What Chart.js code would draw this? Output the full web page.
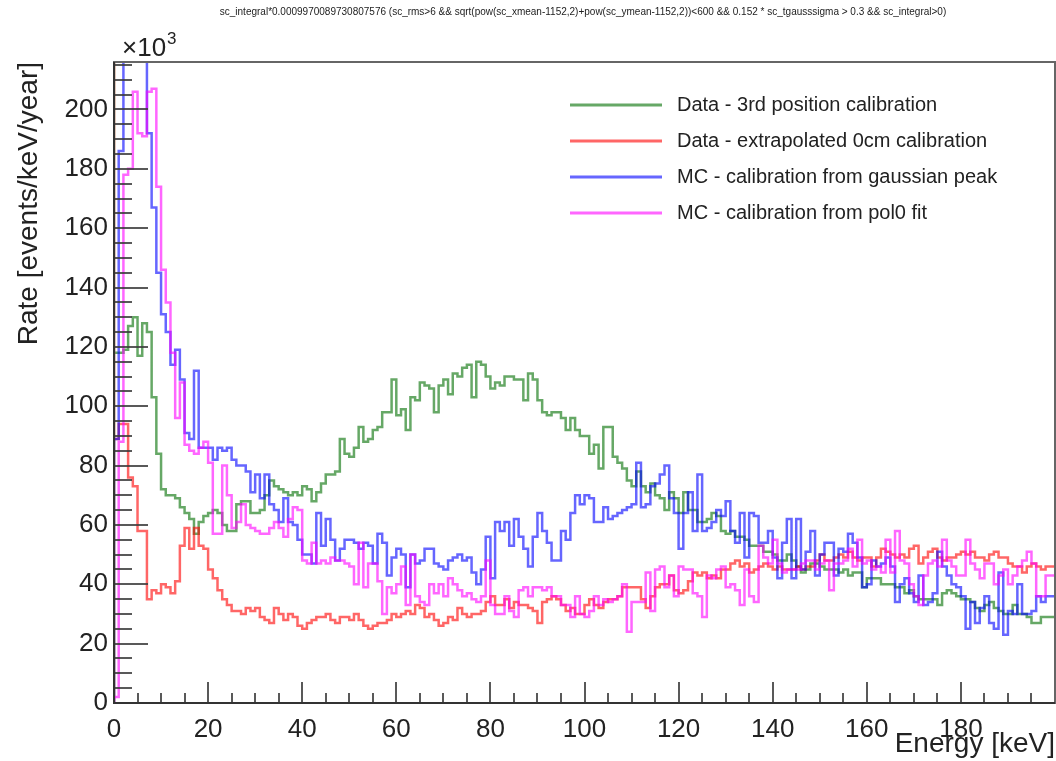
<!DOCTYPE html>
<html>
<head>
<meta charset="utf-8">
<script src="https://cdn.jsdelivr.net/npm/chart.js@4.4.1/dist/chart.umd.min.js"></script>
<style>
  html, body { margin: 0; padding: 0; background: #fff; }
</style>
</head>
<body>
<canvas id="myCanvas" width="1056" height="761"></canvas>
<script>
// energy spectra, 1 keV bins from 0 to 200 keV, rates in 10^3 events/keV/year
var binWidth = 1;
var energyMin = 0;
var energyMax = 200;

var seriesNames = [
    "Data - 3rd position calibration",
    "Data - extrapolated 0cm calibration",
    "MC - calibration from gaussian peak",
    "MC - calibration from pol0 fit"
];

var data3rdPos = [
    320,118,118,119,127,130,117,128,125,103,84,72,70,70,69,66,64,62,57,61,
    63,64,65,64,60,58,58,67,68,68,64,64,65,70,75,73,72,71,70,71,
    70,73,72,68,71,74,77,77,78,89,84,83,86,93,88,89,92,93,98,98,
    109,97,99,92,103,102,108,107,106,98,107,109,104,111,110,113,114,103,115,114,
    110,106,108,107,110,110,109,109,102,111,109,102,98,97,98,98,96,92,96,92,
    90,90,84,87,79,93,93,83,81,79,75,73,78,73,71,74,70,69,65,71,
    69,64,71,65,65,61,61,62,64,63,58,57,58,56,56,55,53,53,53,51,
    51,50,48,48,50,48,46,44,45,47,47,46,45,45,45,44,45,43,44,44,
    39,42,42,42,40,40,40,39,39,37,38,36,35,35,35,35,33,37,38,37,
    36,35,35,34,32,31,33,34,32,31,30,30,33,30,30,29,27,27,29,29
];

var data0cm = [
    300,89,94,94,76,73,58,58,35,38,37,40,39,37,41,53,59,52,59,53,
    52,45,42,38,35,33,31,31,30,32,31,32,29,28,27,32,30,28,30,29,
    26,25,27,28,29,29,30,28,27,29,29,28,30,28,26,25,26,27,27,28,
    30,29,30,31,30,33,32,29,30,28,26,27,29,28,32,30,29,30,30,31,
    34,36,33,33,35,32,34,33,33,32,31,27,34,35,36,35,33,31,32,30,
    30,33,35,33,32,34,35,35,36,39,39,39,39,35,32,36,39,40,40,43,
    38,37,38,41,44,43,44,42,43,42,45,45,47,48,46,47,44,45,46,47,
    46,45,46,45,45,45,46,45,46,46,48,50,48,48,49,50,49,51,49,48,
    49,49,46,49,52,51,50,49,50,49,52,53,47,49,51,52,49,48,49,49,
    50,51,50,51,49,49,48,50,51,49,49,47,46,46,44,46,47,46,45,46
];

var mcGausPeak = [
    12,89,186,235,250,245,238,230,192,167,145,131,125,114,119,109,91,89,112,86,
    86,86,82,86,85,86,82,80,80,78,71,77,69,77,67,65,61,69,61,60,
    55,50,50,47,64,53,62,55,48,52,55,55,54,52,54,53,47,57,54,43,
    49,52,50,39,50,47,48,52,52,47,46,45,48,49,50,48,49,44,40,45,
    56,42,61,58,61,53,62,56,52,46,56,64,58,54,48,48,58,55,64,70,
    67,70,69,61,61,66,62,63,64,65,66,67,81,66,67,73,74,77,80,69,
    64,52,64,71,58,77,58,59,61,65,63,68,58,54,64,49,64,63,54,54,
    58,49,42,54,62,42,62,45,51,58,43,50,54,54,43,52,51,57,54,49,
    39,40,48,46,47,49,46,34,40,42,37,34,43,33,34,37,51,46,43,40,
    39,36,25,34,27,32,36,27,25,44,23,31,30,40,30,30,31,36,34,36
];

var mcPol0 = [
    1,2,88,178,180,206,192,191,206,207,174,146,135,118,96,108,87,85,84,86,
    88,81,57,57,80,70,59,61,67,60,59,58,57,57,59,61,59,56,62,66,
    65,48,47,54,47,48,47,49,48,48,47,46,40,54,39,47,47,41,30,39,
    37,40,46,33,50,36,34,33,40,37,40,36,42,40,38,36,37,35,34,36,
    48,33,30,30,36,31,29,38,39,36,39,39,38,39,36,36,33,33,29,36,
    30,29,31,36,33,35,34,35,36,40,24,34,34,34,44,31,45,46,39,43,
    36,46,45,45,37,36,29,43,42,45,46,39,40,38,33,45,36,34,53,49,
    47,55,47,44,45,45,45,47,48,48,45,47,48,38,47,47,48,52,46,55,
    47,48,45,46,44,55,44,58,48,47,40,36,33,43,47,48,46,55,48,46,
    43,43,55,47,45,42,47,47,40,43,45,40,43,46,48,51,47,36,36,43
];

var lineColors = [
    "rgba(0,110,0,0.6)",
    "rgba(255,0,0,0.6)",
    "rgba(0,0,255,0.6)",
    "rgba(255,0,255,0.6)"
];

var yTicks = [0, 20, 40, 60, 80, 100, 120, 140, 160, 180, 200];
var xTicks = [0, 20, 40, 60, 80, 100, 120, 140, 160, 180];

var cutString = "sc_integral*0.0009970089730807576 (sc_rms>6 && sqrt(pow(sc_xmean-1152,2)+pow(sc_ymean-1152,2))<600 && 0.152 * sc_tgausssigma > 0.3 && sc_integral>0)";

var FONT = "'Liberation Sans', Arial, Helvetica, sans-serif";

// turn bin contents into step points: rise from zero at the low edge, flat across each bin
function histPoints(arr) {
    var pts = [{x: energyMin, y: 0}];
    for (var i = 0; i < arr.length; i++) {
        pts.push({x: energyMin + i * binWidth, y: arr[i]});
    }
    pts.push({x: energyMin + arr.length * binWidth, y: arr[arr.length - 1]});
    return pts;
}

// axis tick marks drawn inside the frame, plus the frame itself
var rootAxes = {
    id: 'rootAxes',
    afterDatasetsDraw: function(chart) {
        var ctx = chart.ctx, a = chart.chartArea;
        var xs = chart.scales.x, ys = chart.scales.y;
        ctx.save();
        ctx.strokeStyle = "rgba(60,60,60,0.85)";
        ctx.lineWidth = 2;
        ctx.beginPath();
        for (var v = 0; v <= ys.max; v += 5) {
            var y = Math.round(ys.getPixelForValue(v));
            var len = (v % 20 === 0) ? 34 : 18;
            ctx.moveTo(a.left, y);
            ctx.lineTo(a.left + len, y);
        }
        for (var e = energyMin; e <= energyMax; e += 5) {
            var x = Math.round(xs.getPixelForValue(e));
            var l = (e % 20 === 0) ? 21 : 10;
            ctx.moveTo(x, a.bottom);
            ctx.lineTo(x, a.bottom - l);
        }
        ctx.stroke();

        ctx.strokeStyle = "#666";
        ctx.strokeRect(a.left, a.top, a.right - a.left, a.bottom - a.top);
        ctx.strokeStyle = "#333";
        ctx.beginPath();
        ctx.moveTo(a.left, a.top);
        ctx.lineTo(a.left, a.bottom);
        ctx.lineTo(a.right, a.bottom);
        ctx.stroke();
        ctx.restore();
    },
    afterDraw: function(chart) {
        var ctx = chart.ctx;
        ctx.save();

        // cut string on top
        ctx.fillStyle = "#222";
        ctx.font = "10px " + FONT;
        ctx.textAlign = "center";
        ctx.textBaseline = "middle";
        ctx.fillText(cutString, 583, 12, 737);

        // x10^3 exponent on the y axis
        ctx.textAlign = "left";
        ctx.textBaseline = "alphabetic";
        ctx.font = "26px " + FONT;
        ctx.fillText("\u00d710", 122, 56);
        var w = ctx.measureText("\u00d710").width;
        ctx.font = "17px " + FONT;
        ctx.fillText("3", 122 + w + 1, 44);

        // legend
        var ds = chart.data.datasets;
        ctx.font = "20px " + FONT;
        ctx.textBaseline = "middle";
        for (var i = 0; i < ds.length; i++) {
            var y = 105 + i * 36;
            ctx.strokeStyle = ds[i].borderColor;
            ctx.lineWidth = 3;
            ctx.beginPath();
            ctx.moveTo(570, y);
            ctx.lineTo(662, y);
            ctx.stroke();
            ctx.fillStyle = "#222";
            ctx.fillText(ds[i].label, 677, y);
        }
        ctx.restore();
    }
};

var allSeries = [data3rdPos, data0cm, mcGausPeak, mcPol0];
var datasets = [];
for (var k = 0; k < allSeries.length; k++) {
    datasets.push({
        label: seriesNames[k],
        data: histPoints(allSeries[k]),
        borderColor: lineColors[k],
        backgroundColor: lineColors[k],
        borderWidth: 2.5,
        stepped: 'after',
        pointRadius: 0,
        fill: false,
        order: 4 - k
    });
}

var ctx = document.getElementById("myCanvas").getContext('2d');
var chart = new Chart(ctx, {
    type: 'line',
    data: { datasets: datasets },
    options: {
        responsive: false,
        devicePixelRatio: 1,
        animation: false,
        layout: { padding: { top: 62, right: 1, left: 0, bottom: 0 } },
        plugins: {
            legend: { display: false },
            tooltip: { enabled: false }
        },
        scales: {
            x: {
                type: 'linear',
                min: energyMin,
                max: energyMax,
                grid: { display: false, drawTicks: false },
                border: { display: false },
                ticks: {
                    stepSize: 20,
                    maxRotation: 0,
                    autoSkip: false,
                    padding: 11,
                    color: "#222",
                    font: { family: FONT, size: 26 },
                    callback: function(v) { return xTicks.indexOf(v) >= 0 ? v : ''; }
                },
                title: {
                    display: true,
                    text: "Energy [keV]",
                    align: 'end',
                    color: "#222",
                    font: { family: FONT, size: 28 },
                    padding: 0
                },
                afterFit: function(s) {
                    s.height = 58;
                    s.paddingLeft = 0;
                    s.paddingRight = 0;
                }
            },
            y: {
                type: 'linear',
                min: 0,
                max: 216,
                grid: { display: false, drawTicks: false },
                border: { display: false },
                ticks: {
                    stepSize: 20,
                    padding: 6,
                    color: "#222",
                    font: { family: FONT, size: 26 },
                    callback: function(v) { return yTicks.indexOf(v) >= 0 ? v : ''; }
                },
                title: {
                    display: true,
                    text: "Rate [events/keV/year]",
                    align: 'end',
                    color: "#222",
                    font: { family: FONT, size: 28 },
                    padding: { top: 12, bottom: 0 }
                },
                afterFit: function(s) {
                    s.width = 114;
                    s.paddingTop = 0;
                    s.paddingBottom = 0;
                }
            }
        }
    },
    plugins: [rootAxes]
});
</script>
</body>
</html>
